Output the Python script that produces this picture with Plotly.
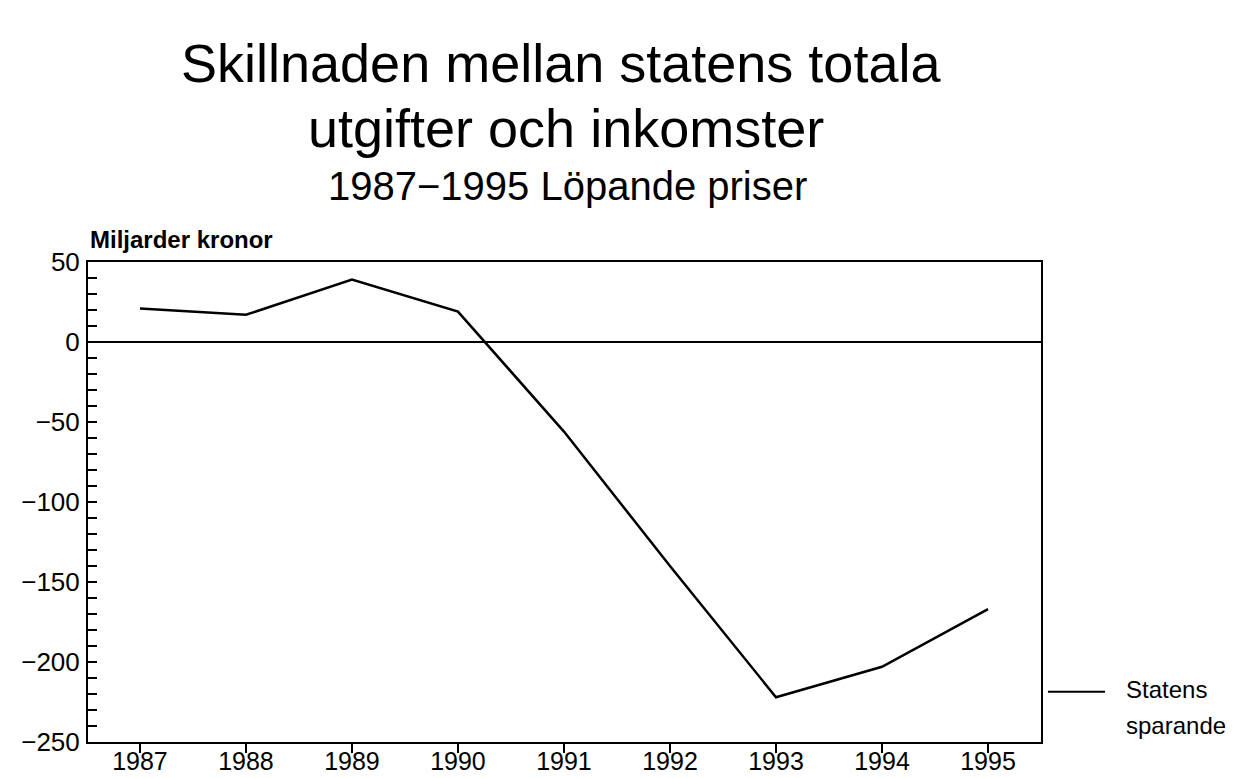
import plotly.graph_objects as go

years = [1987, 1988, 1989, 1990, 1991, 1992, 1993, 1994, 1995]
statens_sparande = [21, 17, 39, 19, -56, -140, -222, -203, -167]

title_line1 = "Skillnaden mellan statens totala"
title_line2 = "utgifter och inkomster"
title_line3 = "1987\u22121995 Löpande priser"
y_label = "Miljarder kronor"
legend_lines = ["Statens", "sparande"]

FONT = "Liberation Sans, Arial, Helvetica, sans-serif"

fig = go.Figure()
fig.add_trace(go.Scatter(
    x=years, y=statens_sparande, mode="lines",
    line=dict(color="black", width=2.5),
    showlegend=False, name="Statens sparande",
))

fig.update_layout(
    width=1229, height=770,
    margin=dict(l=80, r=196, t=254, b=36, autoexpand=False),
    paper_bgcolor="white", plot_bgcolor="white",
    font=dict(family=FONT, color="black"),
    xaxis=dict(
        range=[1986.51, 1995.5], tickmode="array", tickvals=years,
        ticktext=[str(y) for y in years],
        ticks="outside", ticklen=9, tickwidth=2, tickcolor="black",
        showline=True, mirror=True, linewidth=2, linecolor="black",
        showgrid=False, zeroline=False, automargin=False,
        tickfont=dict(size=25, family=FONT, color="black"),
        ticklabelstandoff=-13,
    ),
    yaxis=dict(
        range=[-250, 50], dtick=50, tick0=0,
        ticks="inside", ticklen=9, tickwidth=2, tickcolor="black",
        minor=dict(dtick=10, ticks="inside", ticklen=9, tickwidth=2, tickcolor="black"),
        showline=True, mirror=True, linewidth=2, linecolor="black",
        showgrid=False, zeroline=True, zerolinecolor="black", zerolinewidth=1.5,
        automargin=False,
        tickfont=dict(size=26, family=FONT, color="black"),
        ticklabelstandoff=1,
    ),
)

def ann(text, x, y, size, xanchor="center", yanchor="middle", bold=False):
    fig.add_annotation(
        text=text, x=x, y=y, xref="paper", yref="paper",
        xanchor=xanchor, yanchor=yanchor, showarrow=False, borderpad=0,
        align="left" if xanchor == "left" else "center",
        font=dict(size=size, family=FONT, color="black",
                  weight="bold" if bold else "normal"),
    )

ann(title_line1, 0.496, 1.4146, 54)
ann(title_line2, 0.502, 1.279, 54)
ann(title_line3, 0.503, 1.158, 40)
ann(y_label, 0.001, 1.0165, 24, xanchor="left", yanchor="bottom", bold=True)
ann(legend_lines[0], 1.0882, 0.079, 24, xanchor="left", yanchor="bottom")
ann(legend_lines[1], 1.0882, 0.004, 24, xanchor="left", yanchor="bottom")

fig.add_shape(type="line", xref="paper", yref="paper",
              x0=1.0073, x1=1.0672, y0=0.1048, y1=0.1048,
              line=dict(color="black", width=2))

fig.write_html("out.html")
